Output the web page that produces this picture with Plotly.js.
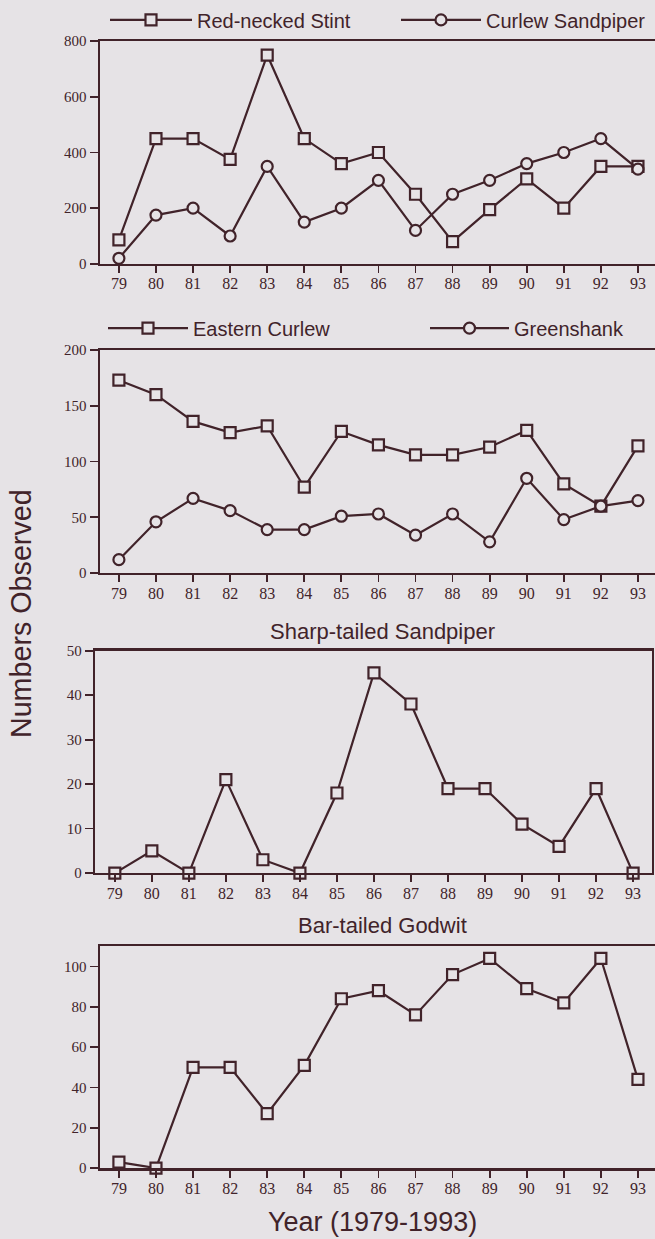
<!DOCTYPE html>
<html><head><meta charset="utf-8">
<script src="https://cdn.plot.ly/plotly-3.0.1.min.js"></script>
<style>html,body{margin:0;padding:0;background:#e6e3e6;overflow:hidden}</style>
</head><body><div id="chart" style="width:655px;height:1239px"></div>
<script>
// ---- data ----
const years = [79,80,81,82,83,84,85,86,87,88,89,90,91,92,93];
const yearLabels = ['79','80','81','82','83','84','85','86','87','88','89','90','91','92','93'];
const redNeckedStint = [86,450,450,375,750,450,360,400,250,80,195,305,200,350,350];
const curlewSandpiper = [20,175,200,100,350,150,200,300,120,250,300,360,400,450,340];
const easternCurlew = [173,160,136,126,132,77,127,115,106,106,113,128,80,60,114];
const greenshank = [12,46,67,56,39,39,51,53,34,53,28,85,48,60,65];
const sharpTailedSandpiper = [0,5,0,21,3,0,18,45,38,19,19,11,6,19,0];
const barTailedGodwit = [3,0,50,50,27,51,84,88,76,96,104,89,82,104,44];
const ticks1 = [0,200,400,600,800];
const ticks2 = [0,50,100,150,200];
const ticks3 = [0,10,20,30,40,50];
const ticks4 = [0,20,40,60,80,100];

// ---- style ----
const W = 655, H = 1239;
const DARK = '#41232a';
const BG = '#e6e3e6';
const fx = p => p / W;
const fy = p => 1 - p / H;

function trace(y, name, symbol, xa, ya, legend, show) {
  return {
    x: years, y: y, name: name, type: 'scatter', mode: 'lines+markers',
    xaxis: xa, yaxis: ya, legend: legend, showlegend: show, cliponaxis: false,
    line: {color: DARK, width: 2.2},
    marker: {symbol: symbol, size: 11, color: BG, line: {color: DARK, width: 2.2}}
  };
}

const data = [
  trace(redNeckedStint, 'Red-necked Stint', 'square', 'x', 'y', 'legend', true),
  trace(curlewSandpiper, 'Curlew Sandpiper', 'circle', 'x', 'y', 'legend2', true),
  trace(easternCurlew, 'Eastern Curlew', 'square', 'x2', 'y2', 'legend3', true),
  trace(greenshank, 'Greenshank', 'circle', 'x2', 'y2', 'legend4', true),
  trace(sharpTailedSandpiper, 'Sharp-tailed Sandpiper', 'square', 'x3', 'y3', 'legend', false),
  trace(barTailedGodwit, 'Bar-tailed Godwit', 'square', 'x4', 'y4', 'legend', false)
];

function xax(d0, d1, r0, r1, anchor) {
  return {
    domain: [d0, d1], range: [r0, r1], anchor: anchor,
    tickmode: 'array', tickvals: years, ticktext: yearLabels,
    showline: true, mirror: true, linecolor: DARK, linewidth: 2.4,
    ticks: 'outside', ticklen: 7, tickwidth: 1.8, tickcolor: DARK,
    ticklabelstandoff: -3,
    showgrid: false, zeroline: false, fixedrange: true,
    tickfont: {family: 'Liberation Serif', size: 16, color: DARK}
  };
}
function yax(d0, d1, r1, tv, anchor) {
  return {
    domain: [d0, d1], range: [0, r1], anchor: anchor,
    tickmode: 'array', tickvals: tv,
    showline: true, mirror: true, linecolor: DARK, linewidth: 2.4,
    ticks: 'outside', ticklen: 8, tickwidth: 1.8, tickcolor: DARK,
    showgrid: false, zeroline: false, fixedrange: true,
    tickfont: {family: 'Liberation Serif', size: 15, color: DARK}
  };
}
function leg(xpx, ypx, iw) {
  return {
    x: fx(xpx), y: fy(ypx), xanchor: 'left', yanchor: 'middle',
    bgcolor: 'rgba(0,0,0,0)', borderwidth: 0, itemwidth: iw,
    font: {family: 'Liberation Sans', size: 20, color: DARK}
  };
}
const titleFont = {family: 'Liberation Sans', size: 22, color: DARK};

const layout = {
  width: W, height: H,
  margin: {l: 0, r: 0, t: 0, b: 0},
  paper_bgcolor: BG, plot_bgcolor: BG,
  xaxis: xax(fx(100), 1, 78.49, 93.46, 'y'),
  yaxis: yax(fy(258.3), fy(34.3), 800, ticks1, 'x'),
  xaxis2: xax(fx(100), 1, 78.49, 93.46, 'y2'),
  yaxis2: yax(fy(569.3), fy(345), 200, ticks2, 'x2'),
  xaxis3: xax(fx(95.2), fx(651.6), 78.47, 93.5, 'y3'),
  yaxis3: yax(fy(871), fy(647.3), 50, ticks3, 'x3'),
  xaxis4: xax(fx(100), 1, 78.49, 93.46, 'y4'),
  yaxis4: yax(fy(1167.7), fy(944.3), 110.2, ticks4, 'x4'),
  legend: leg(105, 13, 82),
  legend2: leg(396, 13, 80),
  legend3: leg(103, 323, 80),
  legend4: leg(425, 323, 79),
  annotations: [
    {text: 'Sharp-tailed Sandpiper', xref: 'paper', yref: 'paper', x: fx(383), y: fy(628),
     xanchor: 'center', yanchor: 'middle', showarrow: false, font: titleFont},
    {text: 'Bar-tailed Godwit', xref: 'paper', yref: 'paper', x: fx(382), y: fy(924),
     xanchor: 'center', yanchor: 'middle', showarrow: false, font: titleFont},
    {text: 'Year (1979-1993)', xref: 'paper', yref: 'paper', x: fx(372), y: fy(1222),
     xanchor: 'center', yanchor: 'middle', showarrow: false,
     font: {family: 'Liberation Sans', size: 27, color: DARK}},
    {text: 'Numbers Observed', xref: 'paper', yref: 'paper', x: fx(21), y: fy(610.5),
     xanchor: 'center', yanchor: 'middle', showarrow: false, textangle: -90,
     font: {family: 'Liberation Sans', size: 28.7, color: DARK}}
  ]
};

Plotly.newPlot('chart', data, layout, {displayModeBar: false, staticPlot: true});
</script>
</body></html>
